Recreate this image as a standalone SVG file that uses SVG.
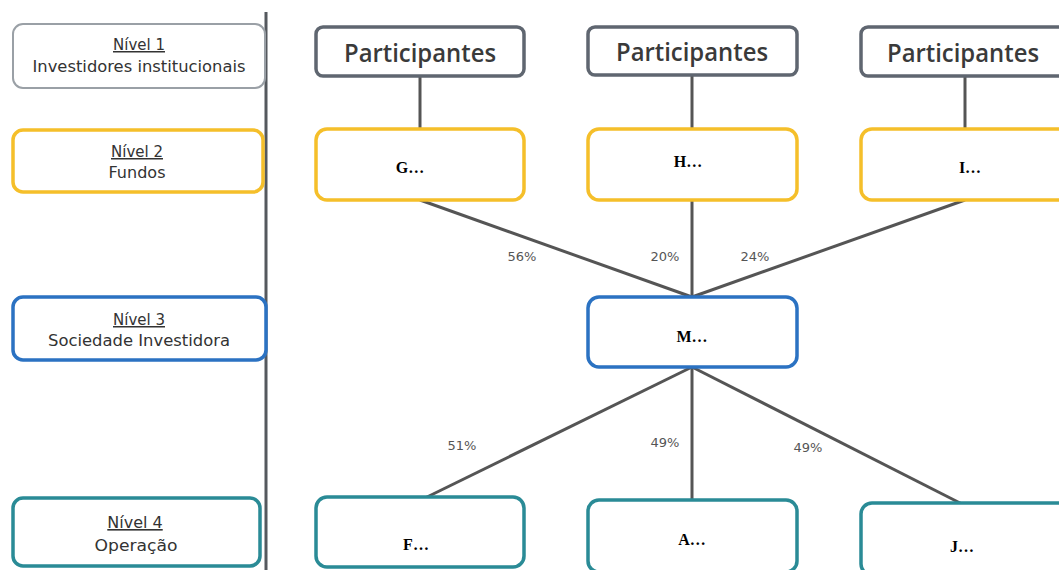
<svg xmlns="http://www.w3.org/2000/svg" width="1059" height="570" viewBox="0 0 1059 570">
<style>
.box{fill:#fff;stroke-width:3.5}
.gray{stroke:#5f6670}
.lg1{stroke:#9aa0a6;stroke-width:2}
.yel{stroke:#f5bf2a}
.blu{stroke:#2b72c2}
.teal{stroke:#2a8b96}
.leg{font-family:"DejaVu Sans",Verdana,sans-serif;font-size:15px;fill:#333;text-anchor:middle}
.u{text-decoration:underline}
.part{font-family:"Open Sans","Liberation Sans",sans-serif;font-size:25px;font-weight:600;fill:#3a3a3a;text-anchor:middle}
.lbl{font-family:"Liberation Serif","Times New Roman",serif;font-weight:bold;font-size:16px;fill:#000;text-anchor:middle}
.pct{font-family:"DejaVu Sans",Verdana,sans-serif;font-size:13px;fill:#555;text-anchor:middle}
.con{stroke:#555;stroke-width:3;fill:none}
</style>
<rect width="1059" height="570" fill="#fff"/>
<line x1="266" y1="12" x2="266" y2="570" stroke="#55595e" stroke-width="3"/>
<g id="connectors">
<line class="con" x1="420" y1="76" x2="420" y2="130"/>
<line class="con" x1="692" y1="76" x2="692" y2="130"/>
<line class="con" x1="965" y1="76" x2="965" y2="130"/>
<line class="con" x1="420" y1="200" x2="692" y2="297"/>
<line class="con" x1="692" y1="200" x2="692" y2="297" stroke="#777"/>
<line class="con" x1="965" y1="200" x2="692" y2="297"/>
<line class="con" x1="692" y1="367" x2="425" y2="498"/>
<line class="con" x1="692" y1="367" x2="692" y2="500" stroke="#777"/>
<line class="con" x1="692" y1="367" x2="962" y2="504"/>
<text class="pct" x="522" y="261">56%</text>
<text class="pct" x="665" y="261">20%</text>
<text class="pct" x="755" y="261">24%</text>
<text class="pct" x="462" y="450">51%</text>
<text class="pct" x="665" y="447">49%</text>
<text class="pct" x="808" y="452">49%</text>
</g>
<g id="legend1"><rect class="box lg1" x="13" y="24" width="252" height="64" rx="10"/>
<text class="leg u" x="139" y="50">Nível 1</text><text class="leg" x="139" y="72" textLength="213" lengthAdjust="spacingAndGlyphs">Investidores institucionais</text></g>
<g id="legend2"><rect class="box yel" x="13" y="130" width="250" height="62" rx="10"/>
<text class="leg u" x="137" y="157">Nível 2</text><text class="leg" x="137" y="178" textLength="57" lengthAdjust="spacingAndGlyphs">Fundos</text></g>
<g id="legend3"><rect class="box blu" x="13" y="297" width="253" height="63" rx="10"/>
<text class="leg u" x="139" y="325">Nível 3</text><text class="leg" x="139" y="346" textLength="182" lengthAdjust="spacingAndGlyphs">Sociedade Investidora</text></g>
<g id="legend4"><rect class="box teal" x="13" y="498" width="247" height="68" rx="10"/>
<text class="leg u" x="135" y="528" style="font-size:16px">Nível 4</text><text class="leg" x="136" y="551" style="font-size:16px" textLength="83" lengthAdjust="spacingAndGlyphs">Operação</text></g>
<g id="part1"><rect class="box gray" x="316" y="27" width="208" height="49" rx="7"/>
<text class="part" x="420" y="62" textLength="152" lengthAdjust="spacingAndGlyphs">Participantes</text></g>
<g id="part2"><rect class="box gray" x="588" y="27" width="209" height="48" rx="7"/>
<text class="part" x="692" y="61" textLength="152" lengthAdjust="spacingAndGlyphs">Participantes</text></g>
<g id="part3"><rect class="box gray" x="861" y="27" width="210" height="49" rx="7"/>
<text class="part" x="963" y="62" textLength="152" lengthAdjust="spacingAndGlyphs">Participantes</text></g>
<g id="G"><rect class="box yel" x="316" y="129" width="208" height="71" rx="11"/>
<text class="lbl" x="410" y="173">G…</text></g>
<g id="H"><rect class="box yel" x="588" y="129" width="209" height="71" rx="11"/>
<text class="lbl" x="688" y="167">H…</text></g>
<g id="I"><rect class="box yel" x="861" y="129" width="210" height="71" rx="11"/>
<text class="lbl" x="970" y="173">I…</text></g>
<g id="M"><rect class="box blu" x="588" y="297" width="209" height="70" rx="11"/>
<text class="lbl" x="692" y="342">M…</text></g>
<g id="F"><rect class="box teal" x="316" y="497" width="208" height="70" rx="11"/>
<text class="lbl" x="416" y="550">F…</text></g>
<g id="A"><rect class="box teal" x="588" y="500" width="209" height="72" rx="11"/>
<text class="lbl" x="692" y="545">A…</text></g>
<g id="J"><rect class="box teal" x="861" y="503" width="210" height="72" rx="11"/>
<text class="lbl" x="962" y="552">J…</text></g>
</svg>
